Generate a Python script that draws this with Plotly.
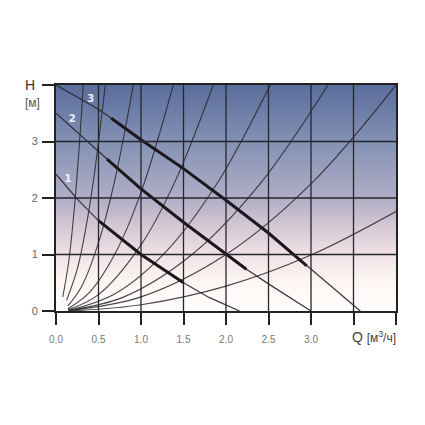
import numpy as np
import plotly.graph_objects as go

# ---- data ----
# pump curves (Q in m3/h, H in m)
pump1_q = [0.0, 0.25, 0.5, 1.0, 1.5, 1.8, 2.16]
pump1_h = [2.42, 1.98, 1.60, 1.00, 0.50, 0.24, 0.0]
pump1_thick = (2, 4)

pump2_q = [0.0, 0.5, 0.6, 1.0, 1.5, 2.0, 2.24, 2.5, 3.0]
pump2_h = [3.50, 2.82, 2.69, 2.16, 1.57, 1.00, 0.74, 0.48, 0.0]
pump2_thick = (2, 6)

pump3_q = [0.0, 0.5, 0.65, 1.0, 1.5, 2.0, 2.5, 2.95, 3.58]
pump3_h = [4.00, 3.57, 3.41, 3.03, 2.52, 1.96, 1.38, 0.80, 0.0]
pump3_thick = (2, 7)

pump_labels = ["1", "2", "3"]
label_q = [0.14, 0.19, 0.41]
label_h = [2.33, 3.39, 3.75]

# system curves (each a list of read points)
sys_q = [
    [0.08, 0.15, 0.22, 0.28, 0.32],
    [0.125, 0.25, 0.35, 0.45, 0.58],
    [0.14, 0.30, 0.50, 0.70, 0.91],
    [0.14, 0.40, 0.70, 1.00, 1.38],
    [0.14, 0.50, 1.00, 1.40, 1.85],
    [0.15, 0.70, 1.30, 1.90, 2.52],
    [0.15, 0.80, 1.60, 2.40, 3.20],
    [0.15, 1.00, 2.00, 3.00, 4.00],
    [0.15, 1.00, 2.00, 3.00, 4.00],
]
sys_h = [
    [0.25, 0.88, 1.89, 3.06, 4.00],
    [0.19, 0.74, 1.46, 2.41, 4.00],
    [0.09, 0.43, 1.21, 2.37, 4.00],
    [0.04, 0.34, 1.03, 2.10, 4.00],
    [0.02, 0.29, 1.17, 2.29, 4.00],
    [0.01, 0.31, 1.06, 2.27, 4.00],
    [0.01, 0.25, 1.00, 2.25, 4.00],
    [0.01, 0.25, 1.00, 2.25, 4.00],
    [0.00, 0.11, 0.44, 0.99, 1.76],
]

x_tickvals = [0, 0.5, 1.0, 1.5, 2.0, 2.5, 3.0]
x_ticktext = ["0.0", "0.5", "1.0", "1.5", "2.0", "2.5", "3.0"]
x_extra_ticks = [3.5, 4.0]
y_tickvals = [0, 1, 2, 3]
y_ticktext = ["0", "1", "2", "3"]
y_extra_ticks = [4]

fig = go.Figure()

# gradient background
bg_y = np.round(np.arange(-0.1, 4.11, 0.1), 2)
bg_z = [[min(max(v / 4.0, 0), 1)] * 2 for v in bg_y]
fig.add_trace(go.Heatmap(
    x=[-0.1, 4.1], y=bg_y, z=bg_z, zmin=0, zmax=1, zsmooth="best",
    showscale=False, hoverinfo="skip",
    colorscale=[
        [0.0, "#ffffff"],
        [0.12, "#fdf7f3"],
        [0.25, "#f1e2e5"],
        [0.375, "#d4c8d4"],
        [0.5, "#b1aec6"],
        [0.75, "#8391b4"],
        [1.0, "#5a6e9b"],
    ],
))

# system curves
for q, h in zip(sys_q, sys_h):
    fig.add_trace(go.Scatter(
        x=q, y=h, mode="lines", line=dict(color="rgba(40,36,44,0.85)", width=1.1, shape="spline", smoothing=1.0),
        hoverinfo="skip", showlegend=False,
    ))

# pump curves
for q, h, (a, b) in [(pump1_q, pump1_h, pump1_thick), (pump2_q, pump2_h, pump2_thick), (pump3_q, pump3_h, pump3_thick)]:
    fig.add_trace(go.Scatter(
        x=q, y=h, mode="lines", line=dict(color="rgba(45,38,48,0.9)", width=1.3),
        hoverinfo="skip", showlegend=False,
    ))
    fig.add_trace(go.Scatter(
        x=q[a:b + 1], y=h[a:b + 1], mode="lines", line=dict(color="#1c171c", width=3.0),
        hoverinfo="skip", showlegend=False,
    ))

fig.add_trace(go.Scatter(
    x=label_q, y=label_h, mode="text", text=["<b>%s</b>" % t for t in pump_labels],
    textfont=dict(color="#eeeef5", size=10, family="DejaVu Sans"),
    hoverinfo="skip", showlegend=False,
))

# grid lines (above background)
shapes = []
for xv in [0.5, 1.0, 1.5, 2.0, 2.5, 3.0, 3.5]:
    shapes.append(dict(type="line", xref="x", yref="y", x0=xv, x1=xv, y0=0, y1=4,
                       line=dict(color="#26242c", width=1.3), layer="above"))
for yv in [1, 2, 3]:
    shapes.append(dict(type="line", xref="x", yref="y", x0=0, x1=4, y0=yv, y1=yv,
                       line=dict(color="#26242c", width=1.3), layer="above"))

fig.update_layout(
    width=425, height=425,
    margin=dict(l=48, r=37, t=77, b=122),
    paper_bgcolor="white", plot_bgcolor="white",
    showlegend=False,
    shapes=shapes,
    font=dict(family="Liberation Sans, Arial, sans-serif"),
    xaxis=dict(
        range=[0, 4], tickvals=x_tickvals, ticktext=x_ticktext,
        showgrid=False, zeroline=False,
        showline=True, mirror=True, linecolor="#222", linewidth=2,
        ticks="outside", ticklen=12, tickwidth=2, tickcolor="#222",
        tickfont=dict(size=10, color="#777"), ticklabelstandoff=6,
        minor=dict(tickvals=x_extra_ticks, ticks="outside", ticklen=12, tickwidth=2,
                   tickcolor="#222", showgrid=False),
        layer="above traces",
    ),
    yaxis=dict(
        range=[0, 4], tickvals=y_tickvals, ticktext=y_ticktext,
        showgrid=False, zeroline=False,
        showline=True, mirror=True, linecolor="#222", linewidth=2,
        ticks="outside", ticklen=12, tickwidth=2, tickcolor="#222",
        tickfont=dict(size=11, color="#666"), ticklabelstandoff=2,
        minor=dict(tickvals=y_extra_ticks, ticks="outside", ticklen=12, tickwidth=2,
                   tickcolor="#222", showgrid=False),
        layer="above traces",
    ),
    annotations=[
        dict(text="H", xref="paper", yref="paper", x=-0.055, y=1.0, xanchor="right", yanchor="middle",
             showarrow=False, font=dict(size=14, color="#333")),
        dict(text="[м]", xref="paper", yref="paper", x=-0.04, y=0.92, xanchor="right", yanchor="middle",
             showarrow=False, font=dict(size=12, color="#555")),
        dict(text="Q <span style='font-size:12px'>[м<sup>3</sup>/ч]</span>", xref="paper", yref="paper",
             x=1.005, y=-0.115, xanchor="right", yanchor="middle",
             showarrow=False, font=dict(size=14, color="#444")),
    ],
)

fig.write_html("out.html")
